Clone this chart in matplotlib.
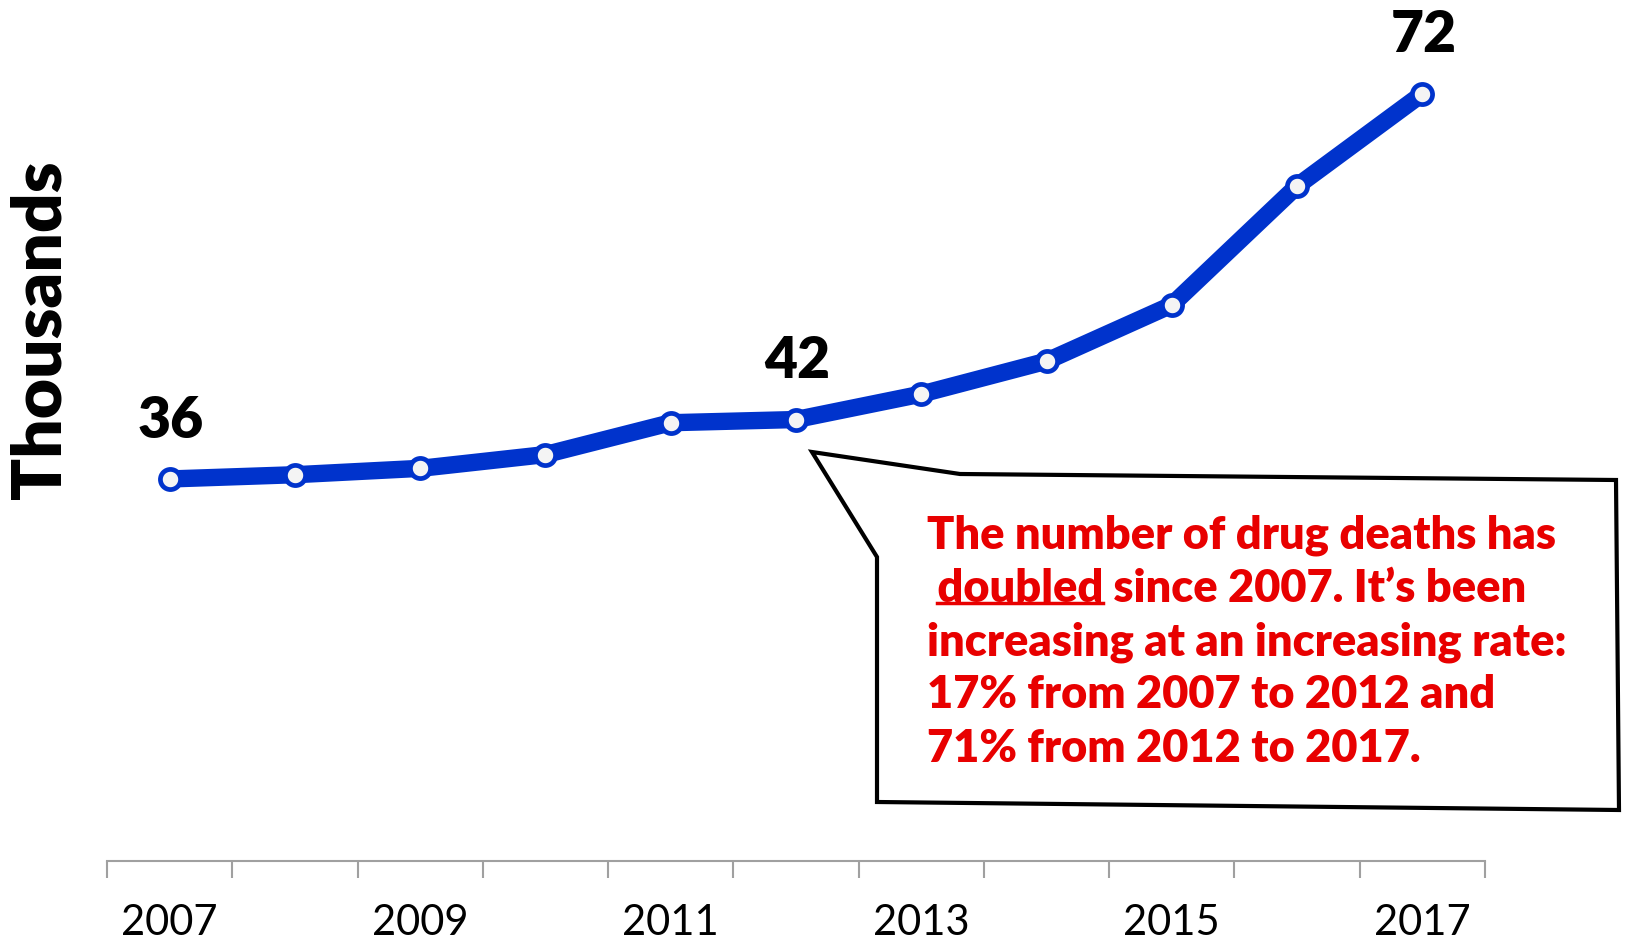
import matplotlib.pyplot as plt
from matplotlib.patches import Polygon
from matplotlib.lines import Line2D

plt.rcParams['font.family'] = ['Lato', 'DejaVu Sans']

years = [2007, 2008, 2009, 2010, 2011, 2012, 2013, 2014, 2015, 2016, 2017]
deaths = [36.0, 36.4, 37.0, 38.3, 41.3, 41.6, 44.0, 47.1, 52.4, 63.6, 72.3]
labelled_years = [2007, 2012, 2017]
tick_years = [2007, 2009, 2011, 2013, 2015, 2017]

callout_lines = [
    "The number of drug deaths has",
    None,  # second line is built from two pieces so "doubled" can be underlined
    "increasing at an increasing rate:",
    "17% from 2007 to 2012 and",
    "71% from 2012 to 2017.",
]

blue = '#0033CC'
red = '#E80000'
heavy = 'heavy'

fig = plt.figure(figsize=(16.27, 9.47), dpi=100)
ax = fig.add_axes([0.0658, 0.0908, 0.8469, 0.8965])

x = list(range(len(years)))
ax.plot(x, deaths, color=blue, lw=12.5, solid_capstyle='round', zorder=2)
ax.plot(x, deaths, 'o', ms=14.5, mfc='#f4f4f4', mec=blue, mew=3.4, zorder=3)

for yr in labelled_years:
    i = years.index(yr)
    ax.annotate(f"{deaths[i]:.0f}", (i, deaths[i]), xytext=(1, 42),
                textcoords='offset points', ha='center', va='center',
                fontsize=41, fontweight=heavy, color='black')

ax.set_xlim(-0.5, len(years) - 0.5)
ax.set_ylim(0, 80)

# tick marks sit between categories, labels on every other year
ax.set_xticks([i - 0.5 for i in range(len(years) + 1)])
ax.set_xticklabels([])
ax.tick_params(axis='x', which='major', length=12, width=1.5, color='#a0a0a0',
               direction='out')
ax.set_xticks([years.index(y) for y in tick_years], minor=True)
ax.set_xticklabels([str(y) for y in tick_years], minor=True)
ax.tick_params(axis='x', which='minor', length=0, pad=31, labelsize=30)

ax.set_yticks([])
for side in ['left', 'right', 'top']:
    ax.spines[side].set_visible(False)
ax.spines['bottom'].set_color('#a0a0a0')
ax.spines['bottom'].set_linewidth(1.5)

fig.text(41 / 1627, 1 - 330 / 947, "Thousands", rotation=90, ha='center',
         va='center', fontsize=50, fontweight=heavy)

# speech bubble pointing at the 2012 point
W, H = 1627, 947
bubble = [(812, 452), (960, 474), (1616, 480), (1619, 810), (877, 802), (877, 557)]
poly = Polygon([(px / W, 1 - py / H) for px, py in bubble], closed=True,
               transform=fig.transFigure, facecolor='white', edgecolor='black',
               lw=3, zorder=5)
fig.patches.append(poly)

text_x = 927 / W
line_y = [535, 589, 642, 695, 748]
tkw = dict(fontsize=32.5, fontweight=heavy, color=red, va='center', ha='left',
           zorder=6)
for txt, yy in zip(callout_lines, line_y):
    if txt is not None:
        fig.text(text_x, 1 - yy / H, txt, **tkw)

t_doubled = fig.text(text_x, 1 - line_y[1] / H, " doubled", **tkw)
fig.canvas.draw()
renderer = fig.canvas.get_renderer()
bb = t_doubled.get_window_extent(renderer)
fig.text(bb.x1 / W, 1 - line_y[1] / H, " since 2007. It\u2019s been", **tkw)
# underline under "doubled" only (skip the leading space)
probe = fig.text(0, 0, " ", fontsize=32.5, fontweight=heavy)
space_w = probe.get_window_extent(renderer).width
probe.remove()
ul_y = (bb.y0 + 6) / H
fig.lines.append(Line2D([(bb.x0 + space_w) / W, bb.x1 / W], [ul_y, ul_y],
                        transform=fig.transFigure, color=red, lw=2.5, zorder=6))

fig.savefig('out.png', dpi=100)
